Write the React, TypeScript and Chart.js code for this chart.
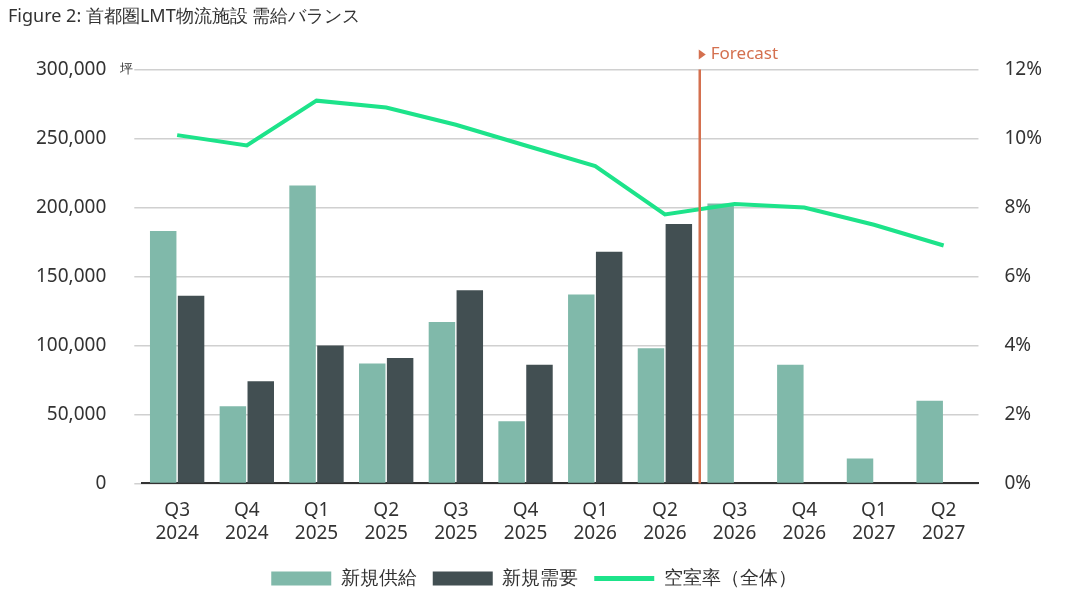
import React, { useEffect, useRef } from "react";
import { Chart, registerables } from "chart.js";
Chart.register(...registerables);

const categories = [["Q3","2024"],["Q4","2024"],["Q1","2025"],["Q2","2025"],["Q3","2025"],["Q4","2025"],["Q1","2026"],["Q2","2026"],["Q3","2026"],["Q4","2026"],["Q1","2027"],["Q2","2027"]];
const supply = [183000, 56000, 216000, 87000, 117000, 45000, 137000, 98000, 203000, 86000, 18000, 60000];
const demand = [136000, 74000, 100000, 91000, 140000, 86000, 168000, 188000, null, null, null, null];
const vacancy = [10.1, 9.8, 11.1, 10.9, 10.4, 9.8, 9.2, 7.8, 8.1, 8.0, 7.5, 6.9];
const forecastIndex = 7.5;

const FONT = "'Noto Sans', sans-serif";

const overlay = {
  id: "overlay",
  afterDatasetsDraw(chart: any) {
    const { ctx, chartArea, scales } = chart;
    const x = scales.x.getPixelForValue(forecastIndex);
    ctx.save();
    ctx.strokeStyle = "#d4704f";
    ctx.lineWidth = 2.5;
    ctx.beginPath();
    ctx.moveTo(x, chartArea.top);
    ctx.lineTo(x, chartArea.bottom);
    ctx.stroke();
    ctx.fillStyle = "#d4704f";
    ctx.beginPath();
    ctx.moveTo(x - 1, chartArea.top - 20);
    ctx.lineTo(x + 6, chartArea.top - 15);
    ctx.lineTo(x - 1, chartArea.top - 10);
    ctx.fill();
    ctx.font = `17px ${FONT}`;
    ctx.textBaseline = "middle";
    ctx.fillText("Forecast", x + 11, chartArea.top - 15);
    ctx.fillStyle = "#333";
    ctx.font = `13px ${FONT}`;
    ctx.fillText("坪", chartArea.left - 22, scales.y.getPixelForValue(300000));
    ctx.restore();
  },
};

export default function App() {
  const ref = useRef<HTMLCanvasElement>(null);
  useEffect(() => {
    document.body.style.margin = "0";
    const chart = new Chart(ref.current!, {
      type: "bar",
      data: {
        labels: categories,
        datasets: [
          { type: "line", label: "空室率（全体）", data: vacancy, yAxisID: "y1", borderColor: "#1de38a", backgroundColor: "#1de38a", borderWidth: 4, pointRadius: 0, tension: 0, order: 0 },
          { label: "新規供給", data: supply, backgroundColor: "#80b9aa", yAxisID: "y", order: 1, categoryPercentage: 0.8, barPercentage: 0.95 },
          { label: "新規需要", data: demand, backgroundColor: "#424f52", yAxisID: "y", order: 1, categoryPercentage: 0.8, barPercentage: 0.95 },
        ] as any,
      },
      options: {
        animation: false,
        responsive: false,
        layout: { padding: { top: 0, left: 8, right: 10, bottom: 4 } },
        plugins: {
          title: { display: true, text: "Figure 2: 首都圏LMT物流施設 需給バランス", align: "start", color: "#333", font: { family: FONT, size: 18, weight: "normal" }, padding: { top: 6, bottom: 42 } },
          legend: {
            position: "bottom",
            labels: {
              color: "#333", font: { family: FONT, size: 19 }, padding: 16, usePointStyle: true, pointStyleWidth: 60, boxHeight: 14,
              generateLabels: (c: any) => [1, 2, 0].map((i: number) => {
                const d = c.data.datasets[i];
                return {
                  text: d.label, fillStyle: d.backgroundColor, strokeStyle: d.backgroundColor, lineWidth: i === 0 ? 5 : 0, datasetIndex: i,
                  hidden: false, pointStyle: i === 0 ? "line" : "rect", fontColor: "#333",
                };
              }),
            },
          },
          tooltip: { enabled: false },
        },
        scales: {
          x: {
            grid: { display: false },
            border: { color: "#333", width: 2 },
            ticks: { color: "#333", font: { family: FONT, size: 19 }, maxRotation: 0, padding: 8 },
          },
          y: {
            min: 0, max: 300000,
            ticks: { stepSize: 50000, color: "#333", font: { family: FONT, size: 19 }, padding: 28, callback: (v: any) => Number(v).toLocaleString("en-US") },
            grid: { color: "#d0d0d0", lineWidth: 1.5 },
            border: { display: false },
          },
          y1: {
            position: "right", min: 0, max: 12,
            ticks: { stepSize: 2, color: "#333", font: { family: FONT, size: 19 }, padding: 18, callback: (v: any) => v + "%" },
            grid: { display: false },
            border: { display: false },
          },
        },
      },
      plugins: [overlay],
    });
    return () => chart.destroy();
  }, []);
  return <canvas ref={ref} width={1070} height={602} style={{ display: "block" }} />;
}
